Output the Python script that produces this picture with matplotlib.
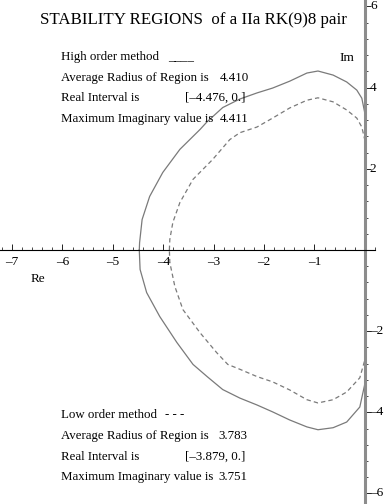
import matplotlib
matplotlib.use("Agg")
import matplotlib.pyplot as plt
from matplotlib.ticker import MultipleLocator, FixedLocator

plt.rcParams['font.family'] = ['Liberation Serif', 'DejaVu Serif']

# high order method boundary (upper half then lower half)
high_up_re = [-4.476, -4.47, -4.42, -4.27, -4.01, -3.67, -3.27, -3.13, -2.82, -2.48, -2.14,
              -1.83, -1.49, -1.15, -0.93, -0.63, -0.36, -0.16, -0.06, 0.0]
high_up_im = [0.0, 0.18, 0.75, 1.32, 1.91, 2.48, 2.97, 3.16, 3.51, 3.72, 3.87,
              3.99, 4.16, 4.36, 4.41, 4.31, 4.14, 3.94, 3.74, 3.37]
high_lo_re = [0.0, -0.10, -0.36, -0.63, -0.93, -1.15, -1.49, -1.83, -2.14, -2.48,
              -2.82, -3.13, -3.41, -3.73, -4.07, -4.33, -4.46, -4.476]
high_lo_im = [-3.30, -3.87, -4.24, -4.38, -4.43, -4.36, -4.19, -3.99, -3.82, -3.65,
              -3.44, -3.12, -2.82, -2.28, -1.64, -1.05, -0.48, 0.0]

# low order method boundary
low_up_re = [-3.879, -3.87, -3.81, -3.67, -3.41, -3.02, -2.68, -2.48, -2.14, -1.83,
             -1.49, -1.15, -0.93, -0.63, -0.36, -0.16, -0.06, 0.0]
low_up_im = [0.0, 0.26, 0.68, 1.17, 1.74, 2.23, 2.72, 2.89, 3.03, 3.25,
             3.50, 3.69, 3.75, 3.65, 3.45, 3.25, 3.03, 2.71]
low_lo_re = [0.0, -0.10, -0.36, -0.63, -0.93, -1.15, -1.49, -1.83, -2.14, -2.48,
             -2.72, -2.94, -3.27, -3.61, -3.77, -3.87, -3.879]
low_lo_im = [-2.71, -3.15, -3.50, -3.69, -3.77, -3.69, -3.45, -3.25, -3.12, -2.94,
             -2.82, -2.53, -2.04, -1.47, -0.90, -0.31, 0.0]

x_ticks = [-7, -6, -5, -4, -3, -2, -1]
y_ticks = [-6, -4, -2, 2, 4, 6]

high_info = ["High order method", "Average Radius of Region is", "Real Interval is",
             "Maximum Imaginary value is"]
high_vals = ["____", "4.410", "[\u20134.476, 0.]", "4.411"]
low_info = ["Low order method", "Average Radius of Region is", "Real Interval is",
            "Maximum Imaginary value is"]
low_vals = ["- - -", "3.783", "[\u20133.879, 0.]", "3.751"]

fig = plt.figure(figsize=(3.85, 5.04), dpi=100)
ax = fig.add_axes([0, 0, 1, 1])
ax.set_xlim(-7.24, 0.40)
ax.set_ylim(-6.26, 6.16)

col = '#7a7a7a'
ax.plot(high_up_re + high_lo_re, high_up_im + high_lo_im, color=col, lw=0.9)
ax.plot(low_up_re + low_lo_re, low_up_im + low_lo_im, color=col, lw=0.9,
        dashes=(3.5, 2.5))

# axes through the origin, maple style
for s in ['top', 'right']:
    ax.spines[s].set_visible(False)
ax.spines['bottom'].set_position(('data', 0))
ax.spines['left'].set_position(('data', 0))
ax.spines['bottom'].set_bounds(-7.24, 0.2)
ax.spines['bottom'].set_linewidth(0.8)
ax.spines['left'].set_color('#8c8c8c')
ax.spines['left'].set_linewidth(2.2)

ax.xaxis.set_major_locator(FixedLocator(x_ticks))
ax.xaxis.set_minor_locator(MultipleLocator(0.2))
ax.yaxis.set_major_locator(FixedLocator(y_ticks))
ax.yaxis.set_minor_locator(MultipleLocator(0.4))
ax.set_xticklabels([str(t).replace('-', '\u2013') for t in x_ticks])
ax.tick_params(axis='x', which='major', direction='in', length=4, width=0.6,
               labelsize=9.5, pad=4)
ax.tick_params(axis='x', which='minor', direction='in', length=2.5, width=0.5)
ax.tick_params(axis='y', which='major', direction='in', length=4, width=0.6,
               labelleft=False)
ax.tick_params(axis='y', which='minor', direction='in', length=2.5, width=0.5)
# y labels sit to the right of the imaginary axis
for t in y_ticks:
    ax.text(0.1, t, str(t).replace('-', '\u2013'), fontsize=9.5,
            ha='left', va='center')

def px(x, y):
    return (x / 385, 1 - y / 504)

fig.text(*px(40, 20), "STABILITY REGIONS  of a IIa RK(9)8 pair",
         fontsize=12.2, va='center', ha='left')

for i, (a, b) in enumerate(zip(high_info, high_vals)):
    yy = [57, 78, 98, 119][i]
    fig.text(*px(61, yy), a, fontsize=9.3, va='center')
    xv = [168, 220, 185, 220][i]
    fig.text(*px(xv, yy), b, fontsize=9.3, va='center')

for i, (a, b) in enumerate(zip(low_info, low_vals)):
    yy = [415, 436, 457, 477][i]
    fig.text(*px(61, yy), a, fontsize=9.3, va='center')
    xv = [165, 218, 185, 218][i]
    fig.text(*px(xv, yy), b, fontsize=9.3, va='center')

fig.text(*px(339, 58), "Im", fontsize=9.5, va='center')
fig.text(*px(31, 279), "Re", fontsize=9.5, va='center')

fig.savefig("out.png", dpi=100)
